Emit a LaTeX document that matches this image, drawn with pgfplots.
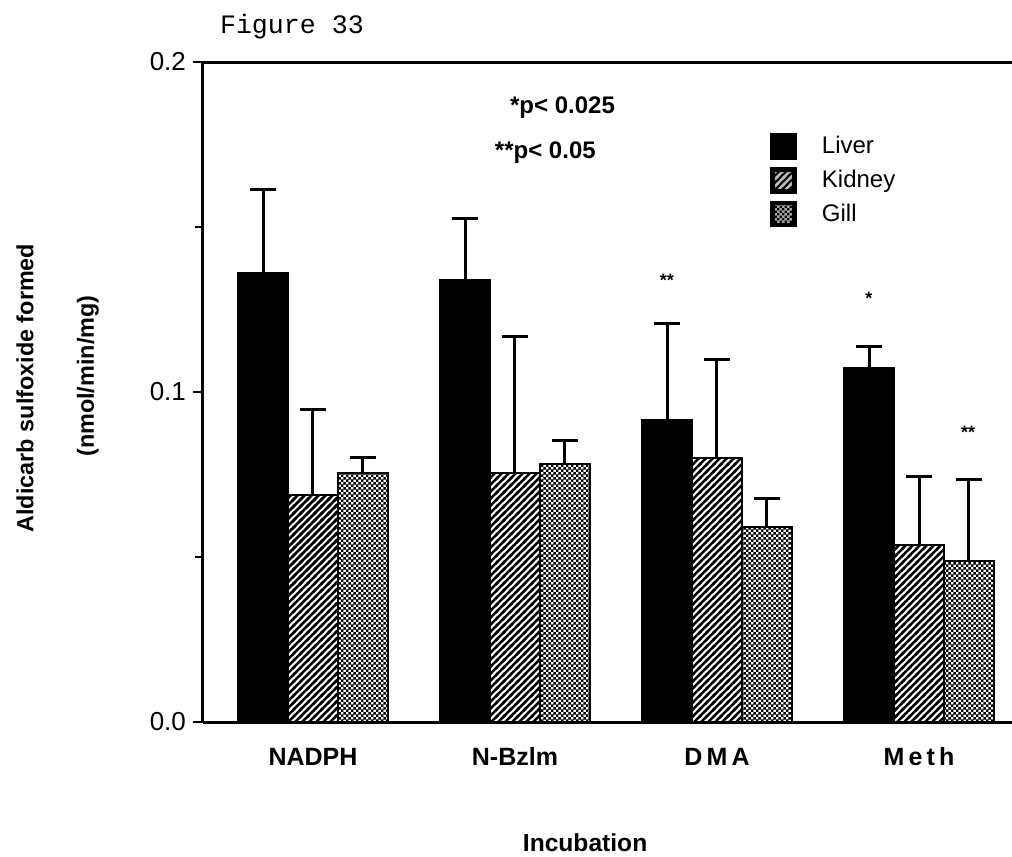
\documentclass[border=0pt]{standalone}
\usepackage{fontspec}
\setmainfont{Liberation Sans}
\newfontfamily\courier{Liberation Mono}
\usepackage{pgfplots}
\pgfplotsset{compat=1.18}
\usetikzlibrary{patterns.meta}

% thick diagonal hatching (kidney) and fine checker (gill)
\tikzdeclarepattern{
  name=kidneyhatch, type=uncolored,
  bottom left={(-1pt,-1pt)}, top right={(4.5pt,4.5pt)}, tile size={(3.5pt,3.5pt)},
  code={\pgfsetlinewidth{1.25pt}
    \pgfpathmoveto{\pgfpoint{-1pt}{-1pt}}\pgfpathlineto{\pgfpoint{4.5pt}{4.5pt}}
    \pgfusepath{stroke}}
}
\tikzdeclarepattern{
  name=gillcheck, type=uncolored,
  bottom left={(0pt,0pt)}, top right={(2.4pt,2.4pt)}, tile size={(2.4pt,2.4pt)},
  code={\pgfpathrectangle{\pgfpointorigin}{\pgfpoint{1.3pt}{1.3pt}}
    \pgfpathrectangle{\pgfpoint{1.2pt}{1.2pt}}{\pgfpoint{1.3pt}{1.3pt}}
    \pgfusepath{fill}}
}

\begin{document}
\begin{tikzpicture}
\begin{axis}[
  x=101pt, y=1650pt,
  xmin=-0.5446, xmax=3.4604, ymin=0, ymax=0.2,
  axis x line=box, axis y line=left,
  y axis line style={-}, x axis line style={-},
  axis line style={line width=1.5pt},
  ybar, 
  bar width=0.2475,
  clip=false,
  xtick={0,1,2,3},
  xticklabels={NADPH, N-Bzlm, D\,M\,A, M\,e\,t\,h},
  x tick style={draw=none},
  xticklabel style={font=\bfseries\fontsize{12.5}{14}\selectfont, text height=9pt, text depth=0pt, yshift=-4pt},
  ytick={0,0.1,0.2},
  minor ytick={0.05,0.15},
  tick align=outside,
  major tick length=5pt, minor tick length=4pt,
  y tick style={line width=1.2pt, black},
  yticklabel style={font=\fontsize{13}{15}\selectfont,
    /pgf/number format/.cd, fixed, fixed zerofill, precision=1, assume math mode=true},
  error bars/y dir=plus, error bars/y explicit,
  error bars/error bar style={line width=1.5pt, black},
  error bars/error mark options={line width=1.5pt, mark size=6.5pt, black, rotate=90},
  legend style={at={(axis cs:2.262,0.1785)}, anchor=north west, draw=none, fill=none,
    inner sep=0pt, row sep=3.5pt, font=\fontsize{12}{14}\selectfont,
    nodes={inner sep=0pt, anchor=west}},
]
\addplot[fill=black, draw=black, line width=0.8pt, bar shift=-0.2475,
  legend image code/.code={\fill[black] (0pt,-6.25pt) rectangle (12.5pt,6.25pt); \path (25pt,0pt);}]
  coordinates {
  (0,0.1361) +- (0,0.0254)
  (1,0.1339) +- (0,0.0188)
  (2,0.0915) +- (0,0.0294)
  (3,0.1073) +- (0,0.0066)
};
\addplot[pattern=kidneyhatch, pattern color=black, draw=black, line width=0.8pt, bar shift=0,
  legend image code/.code={\fill[black] (0pt,-6.25pt) rectangle (12.5pt,6.25pt);
    \fill[pattern=kidneyhatch, pattern color=gray!55] (1.5pt,-4.75pt) rectangle (11pt,4.75pt); \path (25pt,0pt);}]
  coordinates {
  (0,0.0688) +- (0,0.0260)
  (1,0.0755) +- (0,0.0412)
  (2,0.0800) +- (0,0.0300)
  (3,0.0536) +- (0,0.0209)
};
\addplot[pattern=gillcheck, pattern color=black, draw=black, line width=0.8pt, bar shift=0.2475,
  legend image code/.code={\fill[black] (0pt,-6.25pt) rectangle (12.5pt,6.25pt);
    \fill[pattern=gillcheck, pattern color=gray!70] (1.5pt,-4.75pt) rectangle (11pt,4.75pt); \path (25pt,0pt);}]
  coordinates {
  (0,0.0755) +- (0,0.0048)
  (1,0.0782) +- (0,0.0070)
  (2,0.0591) +- (0,0.0085)
  (3,0.0488) +- (0,0.0248)
};
\legend{Liver, Kidney, Gill}

\node[anchor=west, font=\courier\fontsize{13.3}{15}\selectfont] at (axis cs:-0.495,0.2106) {Figure 33};
\node[anchor=west, font=\bfseries\fontsize{12}{14}\selectfont] at (axis cs:0.941,0.1861) {*p< 0.025};
\node[anchor=west, font=\bfseries\fontsize{12}{14}\selectfont] at (axis cs:0.866,0.1727) {**p< 0.05};
\node[font=\bfseries\fontsize{9}{10}\selectfont] at (axis cs:1.752,0.134) {**};
\node[font=\bfseries\fontsize{9}{10}\selectfont] at (axis cs:2.752,0.1285) {*};
\node[font=\bfseries\fontsize{9}{10}\selectfont] at (axis cs:3.243,0.0879) {**};
\node[font=\bfseries\fontsize{12.3}{14}\selectfont] at (axis cs:1.347,-0.0367) {Incubation};
\node[rotate=90, font=\bfseries\fontsize{11.7}{14}\selectfont] at (axis cs:-1.426,0.1012) {Aldicarb sulfoxide formed};
\node[rotate=90, font=\bfseries\fontsize{11.7}{14}\selectfont] at (axis cs:-1.114,0.1048) {(nmol/min/mg)};
\coordinate (bl) at (axis cs:-1.5495,-0.0406);
\coordinate (tr) at (axis cs:3.4604,0.2188);
\end{axis}
\pgfresetboundingbox
\path[use as bounding box] (bl) rectangle (tr);
\end{tikzpicture}
\end{document}
